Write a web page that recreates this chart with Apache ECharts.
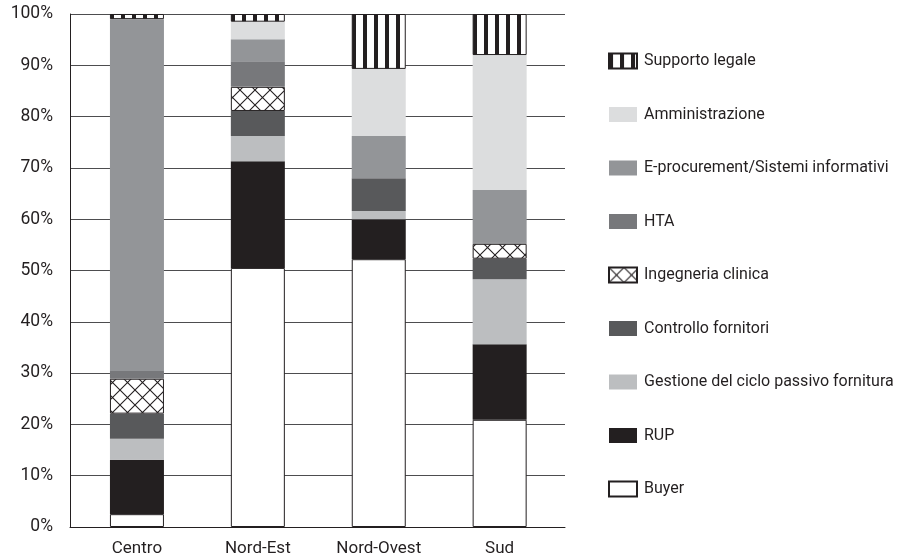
<!DOCTYPE html>
<html><head><meta charset="utf-8">
<script src="https://cdn.jsdelivr.net/npm/echarts@6/dist/echarts.min.js"></script>
<style>html,body{margin:0;padding:0;background:#fff}#c{width:900px;height:559px}</style>
</head><body><div id="c"></div>
<script>
// ---- data (percent of each area) ----
const categories = ['Centro', 'Nord-Est', 'Nord-Ovest', 'Sud'];
const buyer        = [2.5, 50.5, 52.2, 20.9];
const rup          = [10.6, 20.8, 7.8, 14.7];
const gestione     = [4.1, 4.9, 1.6, 12.7];
const controllo    = [4.9, 4.9, 6.4, 4.0];
const ingegneria   = [6.8, 4.7, 0, 2.9];
const hta          = [1.5, 5.0, 0, 0.3];
const eprocurement = [68.6, 4.3, 8.2, 10.2];
const amministraz  = [0, 3.4, 13.1, 26.3];
const supporto     = [1.0, 1.5, 10.7, 8.0];
const yTickStep = 10;

// ---- patterns ----
function stripePattern() {
  const c = document.createElement('canvas');
  c.width = 11; c.height = 10;
  const g = c.getContext('2d');
  g.fillStyle = '#ffffff'; g.fillRect(0, 0, 11, 10);
  g.fillStyle = '#231f20'; g.fillRect(0, 0, 4, 10);
  return c;
}
function crossPattern() {
  const s = 15;
  const c = document.createElement('canvas');
  c.width = s; c.height = s;
  const g = c.getContext('2d');
  g.fillStyle = '#ffffff'; g.fillRect(0, 0, s, s);
  g.strokeStyle = '#231f20'; g.lineWidth = 1.1;
  g.beginPath();
  g.moveTo(0, 0); g.lineTo(s, s);
  g.moveTo(s, 0); g.lineTo(0, s);
  g.stroke();
  return c;
}
const INK = '#231f20';
const FONT = "Roboto, 'Liberation Sans', sans-serif";

const seriesDefs = [
  { name: 'Buyer', data: buyer, color: '#ffffff', border: true },
  { name: 'RUP', data: rup, color: '#231f20' },
  { name: 'Gestione del ciclo passivo fornitura', data: gestione, color: '#bcbec0' },
  { name: 'Controllo fornitori', data: controllo, color: '#58595b' },
  { name: 'Ingegneria clinica', data: ingegneria, color: { image: crossPattern(), repeat: 'repeat' }, border: true },
  { name: 'HTA', data: hta, color: '#77787b' },
  { name: 'E-procurement/Sistemi informativi', data: eprocurement, color: '#939598' },
  { name: 'Amministrazione', data: amministraz, color: '#dcddde' },
  { name: 'Supporto legale', data: supporto, color: { image: stripePattern(), repeat: 'repeat' }, border: true }
];

const series = seriesDefs.map(d => ({
  name: d.name,
  type: 'bar',
  stack: 'total',
  xAxisIndex: 1,
  yAxisIndex: 1,
  barWidth: 54,
  data: d.data.map(v => v === 0 ? '-' : v),
  itemStyle: {
    color: d.color,
    borderColor: d.border ? INK : 'transparent',
    borderWidth: d.border ? 1 : 0
  },
  emphasis: { disabled: true }
}));

const chart = echarts.init(document.getElementById('c'), null, { renderer: 'canvas' });
chart.setOption({
  animation: false,
  backgroundColor: '#ffffff',
  textStyle: { fontFamily: FONT, color: INK },
  grid: [
    { left: 70, right: 335, top: 14, bottom: 32 },
    { left: 76.5, width: 483.6, top: 14, bottom: 32 }
  ],
  xAxis: [
    { gridIndex: 0, type: 'category', data: [''],
      axisLine: { lineStyle: { color: INK, width: 1 } }, axisTick: { show: false },
      axisLabel: { show: false } },
    { gridIndex: 1, type: 'category', data: categories,
      axisLine: { show: false }, axisTick: { show: false },
      axisLabel: { interval: 0, fontSize: 17, color: INK, fontFamily: FONT, margin: 13 } }
  ],
  yAxis: [
    { gridIndex: 0, type: 'value', min: 0, max: 100, interval: yTickStep,
      axisLine: { show: true, lineStyle: { color: INK, width: 1 } },
      axisTick: { show: false },
      splitLine: { lineStyle: { color: '#4d4d4f', width: 1 } },
      axisLabel: { formatter: '{value}%', fontSize: 17.5, color: INK, fontFamily: FONT, margin: 17,
                   padding: [7, 0, 0, 0] } },
    { gridIndex: 1, type: 'value', min: 0, max: 100, interval: yTickStep, show: false,
      splitLine: { show: false } }
  ],
  legend: {
    orient: 'vertical',
    left: 608,
    top: 51,
    padding: 0,
    itemWidth: 28,
    itemHeight: 15,
    itemGap: 33.5,
    icon: 'rect',
    selectedMode: false,
    data: seriesDefs.map(d => d.name).reverse(),
    textStyle: { fontSize: 16, lineHeight: 20, color: INK, fontFamily: FONT, padding: [0, 0, 0, 2] }
  },
  series: series
});
</script>
</body></html>
